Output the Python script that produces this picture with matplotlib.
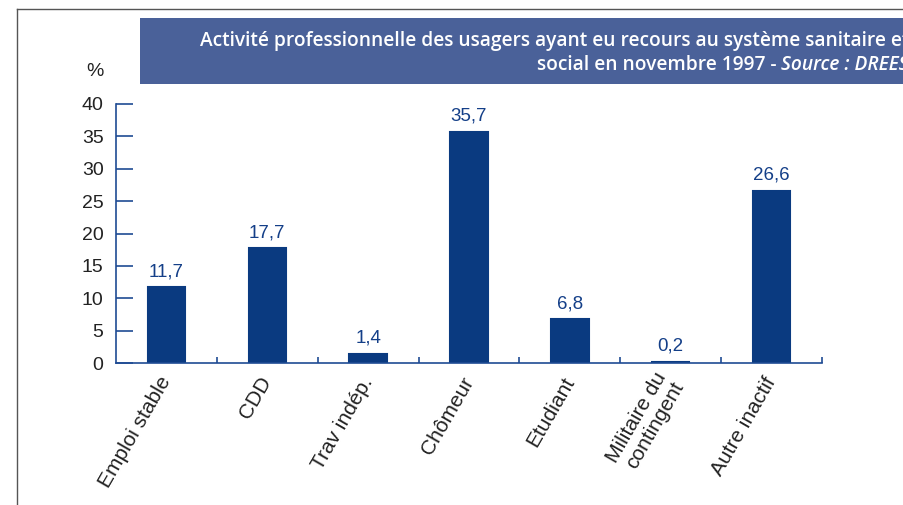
import matplotlib.pyplot as plt
from matplotlib.patches import Rectangle
from matplotlib.lines import Line2D

# data
categories = ["Emploi stable", "CDD", "Trav indép.", "Chômeur", "Etudiant",
              "Militaire du\ncontingent", "Autre inactif"]
values = [11.7, 17.7, 1.4, 35.7, 6.8, 0.2, 26.6]
value_labels = ["11,7", "17,7", "1,4", "35,7", "6,8", "0,2", "26,6"]
yticks = [0, 5, 10, 15, 20, 25, 30, 35, 40]

BAR_COLOR = "#0a3a80"
AXIS_COLOR = "#1f4b93"
BOX_COLOR = "#4a6199"

plt.rcParams['font.family'] = ['Liberation Sans', 'DejaVu Sans']

W, H = 904, 505
fig = plt.figure(figsize=(W / 100, H / 100), dpi=100)

# axes placed in pixel coords of the reference
ax = fig.add_axes([116 / W, (H - 363) / H, (822 - 116) / W, (363 - 104) / H])
x = list(range(len(categories)))
ax.bar(x, values, width=0.37, color=BAR_COLOR, edgecolor=BAR_COLOR,
       linewidth=1.5, zorder=2)
for xi, v, lab in zip(x, values, value_labels):
    ax.annotate(lab, (xi, v), xytext=(0, 5), textcoords="offset points",
                ha="center", va="bottom", fontsize=13.5, color="#143f88")

ax.set_xlim(-0.5, len(categories) - 0.5)
ax.set_ylim(0, 40)
ax.set_yticks(yticks)
ax.set_yticklabels([str(t) for t in yticks], fontsize=14, color="#222222")

ax.set_xticks(x)
ax.set_xticklabels(categories, rotation=60, ha="right", va="center",
                   rotation_mode="anchor", fontsize=15, color="#222222",
                   linespacing=1.05)
ax.tick_params(axis="x", which="major", length=0, pad=11)
ax.set_xticks([i + 0.5 for i in x], minor=True)
ax.tick_params(axis="x", which="minor", direction="in", length=4.5,
               width=1.2, color=AXIS_COLOR)
ax.tick_params(axis="y", direction="in", length=12, width=1.2,
               color=AXIS_COLOR, pad=9)

for side in ["top", "right"]:
    ax.spines[side].set_visible(False)
for side in ["left", "bottom"]:
    ax.spines[side].set_color(AXIS_COLOR)
    ax.spines[side].set_linewidth(1.2)

fig.text(95 / W, 1 - 72 / H, "%", ha="center", va="center", fontsize=14,
         color="#222222")

# frame lines
fig.add_artist(Line2D([17 / W, 17 / W], [0, 1 - 9 / H], color="#555555", lw=1))
fig.add_artist(Line2D([17 / W, 1], [1 - 9 / H, 1 - 9 / H], color="#555555", lw=1))

# title box
fig.add_artist(Rectangle((140 / W, 1 - 84 / H), (W - 140) / W, 66 / H,
                         transform=fig.transFigure, color=BOX_COLOR, lw=0))
tfont = dict(family="Open Sans", fontsize=13.8, color="white", weight="semibold")
right = 909 / W
fig.text(right, 1 - 46 / H,
         "Activité professionnelle des usagers ayant eu recours au système sanitaire et",
         ha="right", va="baseline", **tfont)
t2 = fig.text(right, 1 - 70 / H, "Source : DREES", ha="right", va="baseline",
              style="italic", **tfont)
fig.canvas.draw()
bb = t2.get_window_extent(renderer=fig.canvas.get_renderer())
fig.text(bb.x0 / W, 1 - 70 / H, "social en novembre 1997 - ", ha="right",
         va="baseline", **tfont)

fig.savefig("out.png", dpi=100)
